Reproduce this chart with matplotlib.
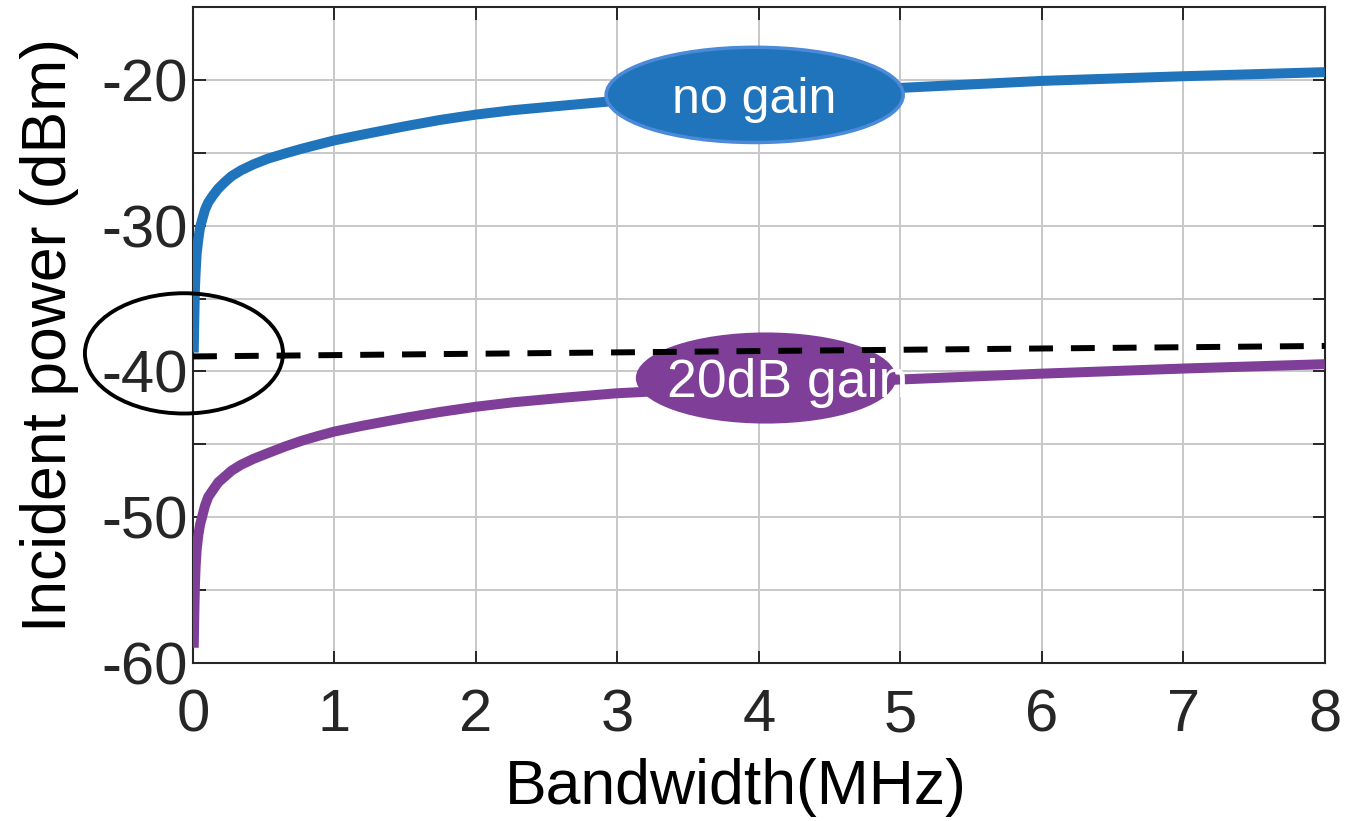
import matplotlib
matplotlib.use("Agg")
import matplotlib.pyplot as plt
from matplotlib.patches import Ellipse

plt.rcParams["font.family"] = ["Liberation Sans", "DejaVu Sans"]

# values
bw_no_gain = [0.005, 0.009, 0.014, 0.019, 0.026, 0.038, 0.05, 0.085, 0.108, 0.143,
              0.179, 0.226, 0.273, 0.34, 0.426, 0.53, 0.65, 0.77, 0.886, 1.0,
              1.2, 1.5, 1.745, 2.0, 2.26, 2.62, 2.92, 4.0, 5.0, 6.0, 7.0, 8.0]
p_no_gain = [-38.7, -36.5, -34.2, -33.1, -31.9, -30.9, -30.1, -28.9, -28.4, -27.9,
             -27.45, -27.0, -26.6, -26.2, -25.8, -25.4, -25.05, -24.72, -24.43, -24.15,
             -23.75, -23.18, -22.75, -22.38, -22.08, -21.76, -21.5, -21.0, -20.55, -20.07, -19.75, -19.47]

bw_gain = [0.005, 0.009, 0.014, 0.019, 0.026, 0.038, 0.05, 0.085, 0.108, 0.143,
           0.179, 0.226, 0.273, 0.34, 0.426, 0.53, 0.65, 0.77, 0.886, 1.0,
           1.2, 1.5, 1.745, 2.0, 2.26, 2.62, 2.99, 4.0, 5.0, 6.0, 7.0, 8.0]
p_gain = [-58.95, -56.7, -54.5, -53.3, -52.2, -51.2, -50.5, -49.2, -48.6, -48.1,
          -47.6, -47.2, -46.8, -46.4, -46.0, -45.6, -45.15, -44.75, -44.42, -44.12,
          -43.72, -43.18, -42.78, -42.42, -42.12, -41.8, -41.5, -41.0, -40.55, -40.15, -39.8, -39.5]

bw_thresh = [0.0, 4.0, 8.0]
p_thresh = [-38.97, -38.6, -38.25]

xticks = list(range(0, 9))
yticks = [-60, -55, -50, -45, -40, -35, -30, -25, -20]
ytick_labels = ["-60", "", "-50", "", "-40", "", "-30", "", "-20"]

BLUE = "#1f74bb"
PURPLE = "#7f3f98"
DARK = "#262626"

fig = plt.figure(figsize=(13.45, 8.21), dpi=100)
ax = fig.add_axes([0.1435, 0.1924, 0.8415, 0.7991])

ax.plot(bw_no_gain, p_no_gain, color=BLUE, lw=7.2, solid_capstyle="butt",
        solid_joinstyle="round", zorder=3)
ax.plot(bw_gain, p_gain, color=PURPLE, lw=7.2, solid_capstyle="butt",
        solid_joinstyle="round", zorder=3)

# label bubbles
ax.add_patch(Ellipse((3.97, -21.03), 2.10, 6.53, facecolor=BLUE,
                     edgecolor="#4a8ad8", lw=2.5, zorder=4))
ax.text(3.97, -22.27, "no gain", color="white", fontsize=36,
        ha="center", va="baseline", zorder=5)

ax.add_patch(Ellipse((4.05, -40.45), 1.84, 6.25, facecolor=PURPLE,
                     edgecolor="none", zorder=4))
ax.text(3.35, -41.75, "20dB gain", color="white", fontsize=38.5,
        ha="left", va="baseline", zorder=5)

ax.plot(bw_thresh, p_thresh, color="black", lw=4.3, dashes=(4.0, 3.0), zorder=6)

ax.add_patch(Ellipse((-0.064, -38.76), 1.40, 8.25, facecolor="none",
                     edgecolor="black", lw=2.8, clip_on=False, zorder=7))

ax.set_xlim(0, 8)
ax.set_ylim(-60, -15)
ax.set_xticks(xticks)
ax.set_yticks(yticks)
ax.set_yticklabels(ytick_labels)
ax.grid(True, color="#c8c8c8", lw=1.4)
ax.set_axisbelow(True)

ax.tick_params(direction="in", length=9, width=1.4, color=DARK,
               labelsize=43, labelcolor=DARK, top=True, right=True)
ax.tick_params(axis="x", pad=18)
ax.tick_params(axis="y", pad=4)
for s in ax.spines.values():
    s.set_linewidth(1.5)
    s.set_color(DARK)

ax.set_xlabel("Bandwidth(MHz)", fontsize=45, labelpad=12)
ax.set_ylabel("Incident power (dBm)", fontsize=45, labelpad=16)
ax.xaxis.set_label_coords(0.48, -0.145)

fig.savefig("out.png", dpi=100)
